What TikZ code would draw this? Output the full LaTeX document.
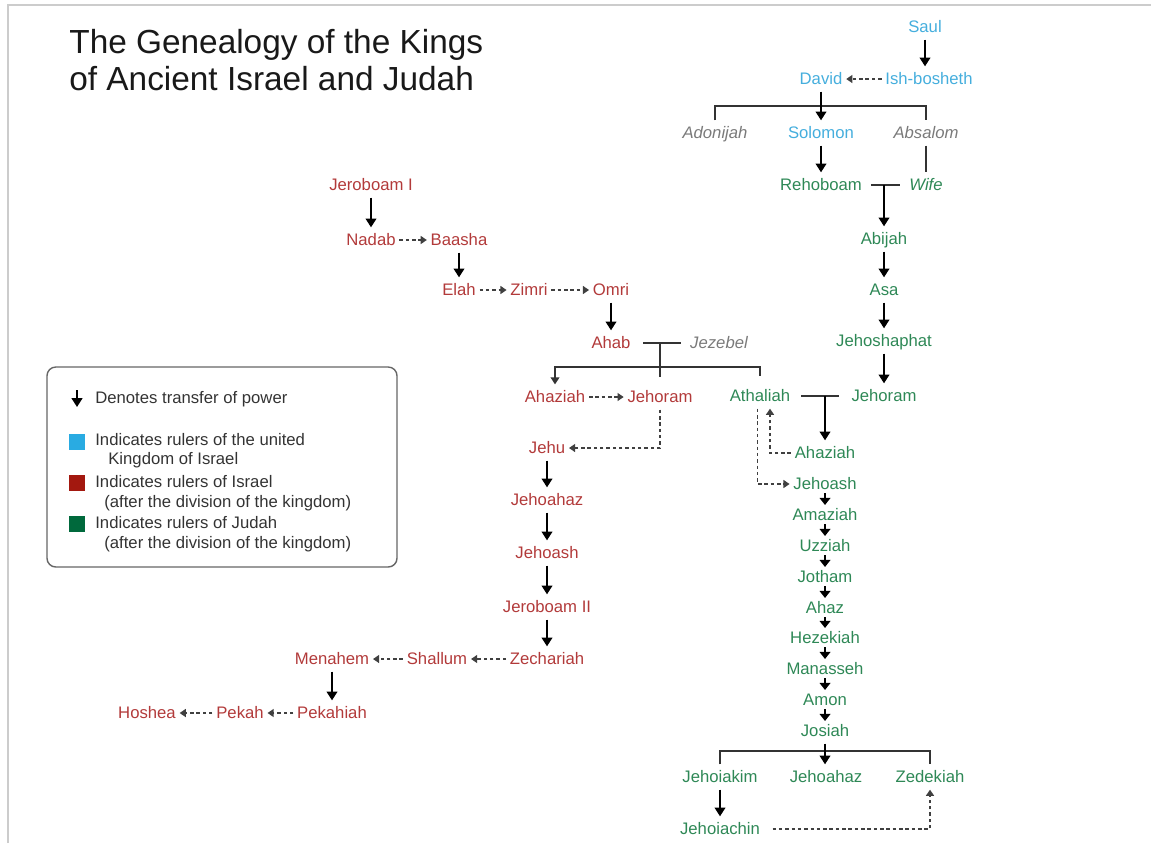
\documentclass[tikz,border=0pt]{standalone}
\usepackage{fontspec}
\setmainfont{Liberation Sans}
\usetikzlibrary{arrows.meta}
\definecolor{azul}{HTML}{45AEDD}
\definecolor{rojo}{HTML}{B23A3A}
\definecolor{verde}{HTML}{2E8856}
\definecolor{gris}{HTML}{7A7A7A}
\definecolor{azulL}{HTML}{29ABE2}
\definecolor{rojoL}{HTML}{A3180F}
\definecolor{verdeL}{HTML}{00693C}
\tikzset{
  rey/.style={font=\fontsize{9.5}{11}\selectfont, text height=8pt, text depth=2pt, inner sep=2pt},
  cursiva/.style={font=\fontsize{9.5}{11}\selectfont\itshape},
  unido/.style={rey, text=azul},
  israel/.style={rey, text=rojo},
  juda/.style={rey, text=verde},
  otro/.style={rey, cursiva, text=gris},
  trans/.style={-{Triangle[width=6pt,length=5pt]}, line width=1.2pt},
  paso/.style={-{Triangle[width=6pt,length=4pt]}, line width=1.1pt, shorten <=-2pt, shorten >=-1.5pt},
  sucesion/.style={-{Triangle[width=4.5pt,length=3.5pt]}, line width=0.9pt, dash pattern=on 2pt off 1.6pt, draw=black!75},
  linea/.style={line width=0.8pt, draw=black!80},
  boda/.style={linea, shorten <=3pt, shorten >=3pt},
  leyenda/.style={font=\fontsize{9.5}{11}\selectfont, text=black!80, anchor=west, inner sep=0pt, text height=8pt, text depth=2pt}
}
\begin{document}
\begin{tikzpicture}[x=0.02cm, y=-0.02cm]
    \useasboundingbox (0,0) rectangle (1151,843);

    % Marco
    \draw[black!20, line width=1.5pt] (8,843) -- (8,5) -- (1151,5);

    % Titulo
    \node[anchor=north west, inner sep=0pt, align=left, font=\fontsize{19}{21}\selectfont, text=black!90] (titulo) at (69,29)
        {The Genealogy of the Kings\\of Ancient Israel and Judah};

    % Reino unido
    \node[unido] (saul)  at (925,27)  {Saul};
    \node[unido] (david) at (821,79)  {David};
    \node[unido] (ishb)  at (929,79)  {Ish-bosheth};
    \node[otro]  (adon)  at (715,133) {Adonijah};
    \node[unido] (solo)  at (821,133) {Solomon};
    \node[otro]  (absa)  at (926,133) {Absalom};
    \coordinate (hDavid) at (821,106);

    \draw[trans] (saul.south) -- (saul.south |- ishb.north);
    \draw[sucesion] (ishb) -- (david);
    \draw[linea] (adon.north) |- (hDavid) -| (absa.north);
    \draw[trans] (david) -- (solo);

    % Juda
    \node[juda] (reho)  at (821,185) {Rehoboam};
    \node[juda, cursiva] (wife) at (926,185) {Wife};
    \node[juda] (abija) at (884,239) {Abijah};
    \node[juda] (asa)   at (884,290) {Asa};
    \node[juda] (josaf) at (884,341) {Jehoshaphat};
    \node[juda] (jehoJ) at (884,396) {Jehoram};
    \node[juda] (atha)  at (760,396) {Athaliah};
    \node[juda] (ahazJ) at (825,453) {Ahaziah};
    \foreach \n/\t/\y in {joash/Jehoash/484, amaz/Amaziah/515, uzz/Uzziah/546, jot/Jotham/577,
                          ahaz/Ahaz/608, eze/Hezekiah/638, mana/Manasseh/669, amon/Amon/700, josi/Josiah/731} {
        \node[juda] (\n) at (825,\y) {\t};
    }
    \node[juda] (jkim)   at (720,777) {Jehoiakim};
    \node[juda] (jahazJ) at (826,777) {Jehoahaz};
    \node[juda] (zede)   at (930,777) {Zedekiah};
    \node[juda] (jchin)  at (720,829) {Jehoiachin};
    \coordinate (hJosiah) at (825,751);

    \draw[linea] (absa) -- (wife);
    \draw[trans] (solo) -- (reho);
    \draw[boda] (reho) -- (wife);
    \draw[trans] (reho.east -| abija.north) -- (abija);
    \foreach \a/\b in {abija/asa, asa/josaf, josaf/jehoJ} {
        \draw[trans] (\a) -- (\b);
    }
    \draw[boda, shorten <=4pt, shorten >=5pt] (atha) -- (jehoJ);
    \draw[trans] (atha.east -| ahazJ.north) -- (ahazJ);
    \draw[sucesion] (ahazJ.west) -| ([xshift=0.2cm]atha.south);
    \draw[sucesion] ([xshift=-0.05cm]atha.south) |- (joash.west);
    \foreach \a/\b in {joash/amaz, amaz/uzz, uzz/jot, jot/ahaz, ahaz/eze, eze/mana, mana/amon, amon/josi} {
        \draw[paso] (\a) -- (\b);
    }
    \draw[linea] (jkim.north) |- (hJosiah) -| (zede.north);
    \draw[trans] (josi.south) -- (josi.south |- jahazJ.north);
    \draw[trans] (jkim) -- (jchin);
    \draw[sucesion, shorten <=5pt] (jchin.east) -| (zede.south);

    % Israel
    \node[israel] (jero)   at (371,185) {Jeroboam I};
    \node[israel] (nadab)  at (371,240) {Nadab};
    \node[israel] (baasha) at (459,240) {Baasha};
    \node[israel] (elah)   at (459,290) {Elah};
    \node[israel] (zimri)  at (529,290) {Zimri};
    \node[israel] (omri)   at (611,290) {Omri};
    \node[israel] (ahab)   at (611,343) {Ahab};
    \node[otro]   (jeze)   at (719,343) {Jezebel};
    \node[israel] (ahazI)  at (555,397) {Ahaziah};
    \node[israel] (jehoR)  at (660,397) {Jehoram};
    \foreach \n/\t/\y in {jehu/Jehu/448, jahazI/Jehoahaz/500, joashI/Jehoash/553, jero2/Jeroboam II/607, zech/Zechariah/659} {
        \node[israel] (\n) at (547,\y) {\t};
    }
    \node[israel] (shallum)  at (437,659) {Shallum};
    \node[israel] (menahem)  at (332,659) {Menahem};
    \node[israel] (pekahiah) at (332,713) {Pekahiah};
    \node[israel] (pekah)    at (240,713) {Pekah};
    \node[israel] (hoshea)   at (147,713) {Hoshea};
    \coordinate (hAhab) at (660,367);

    \draw[trans] (jero) -- (nadab);
    \draw[sucesion] (nadab) -- (baasha);
    \draw[trans] (baasha) -- (elah);
    \draw[sucesion] (elah) -- (zimri);
    \draw[sucesion] (zimri) -- (omri);
    \draw[trans] (omri) -- (ahab);
    \draw[boda, shorten <=5pt] (ahab) -- (jeze);
    \draw[linea, shorten >=4pt] (ahab.east -| jehoR.north) -- (jehoR.north);
    \draw[linea, -{Triangle[width=5pt,length=4pt]}] (hAhab) -| (ahazI.north);
    \draw[linea, shorten >=4pt] (hAhab) -| (atha.north);
    \draw[sucesion] (ahazI) -- (jehoR);
    \draw[sucesion] (jehoR.south) |- (jehu.east);
    \foreach \a/\b in {jehu/jahazI, jahazI/joashI, joashI/jero2, jero2/zech} {
        \draw[trans] (\a) -- (\b);
    }
    \draw[sucesion] (zech) -- (shallum);
    \draw[sucesion] (shallum) -- (menahem);
    \draw[trans] (menahem) -- (pekahiah);
    \draw[sucesion] (pekahiah) -- (pekah);
    \draw[sucesion] (pekah) -- (hoshea);

    % Leyenda
    \draw[black!60, line width=0.8pt, rounded corners=5pt] (47,367) rectangle (397,567);
    \coordinate (legA) at (77,390);
    \coordinate (legB) at (77,407);
    \draw[trans] (legA) -- (legB);
    \node[leyenda] (leg1) at (95,398) {Denotes transfer of power};
    \node[fill=azulL,  minimum size=0.32cm, inner sep=0pt] (cuadA) at (77,442) {};
    \node[fill=rojoL,  minimum size=0.32cm, inner sep=0pt] (cuadB) at (77,483) {};
    \node[fill=verdeL, minimum size=0.32cm, inner sep=0pt] (cuadC) at (77,524) {};
    \node[leyenda] (leg2)  at (95,440)  {Indicates rulers of the united};
    \node[leyenda] (leg2b) at (108,459) {Kingdom of Israel};
    \node[leyenda] (leg3)  at (95,482)  {Indicates rulers of Israel};
    \node[leyenda] (leg3b) at (104,502) {(after the division of the kingdom)};
    \node[leyenda] (leg4)  at (95,523)  {Indicates rulers of Judah};
    \node[leyenda] (leg4b) at (104,543) {(after the division of the kingdom)};
\end{tikzpicture}
\end{document}
